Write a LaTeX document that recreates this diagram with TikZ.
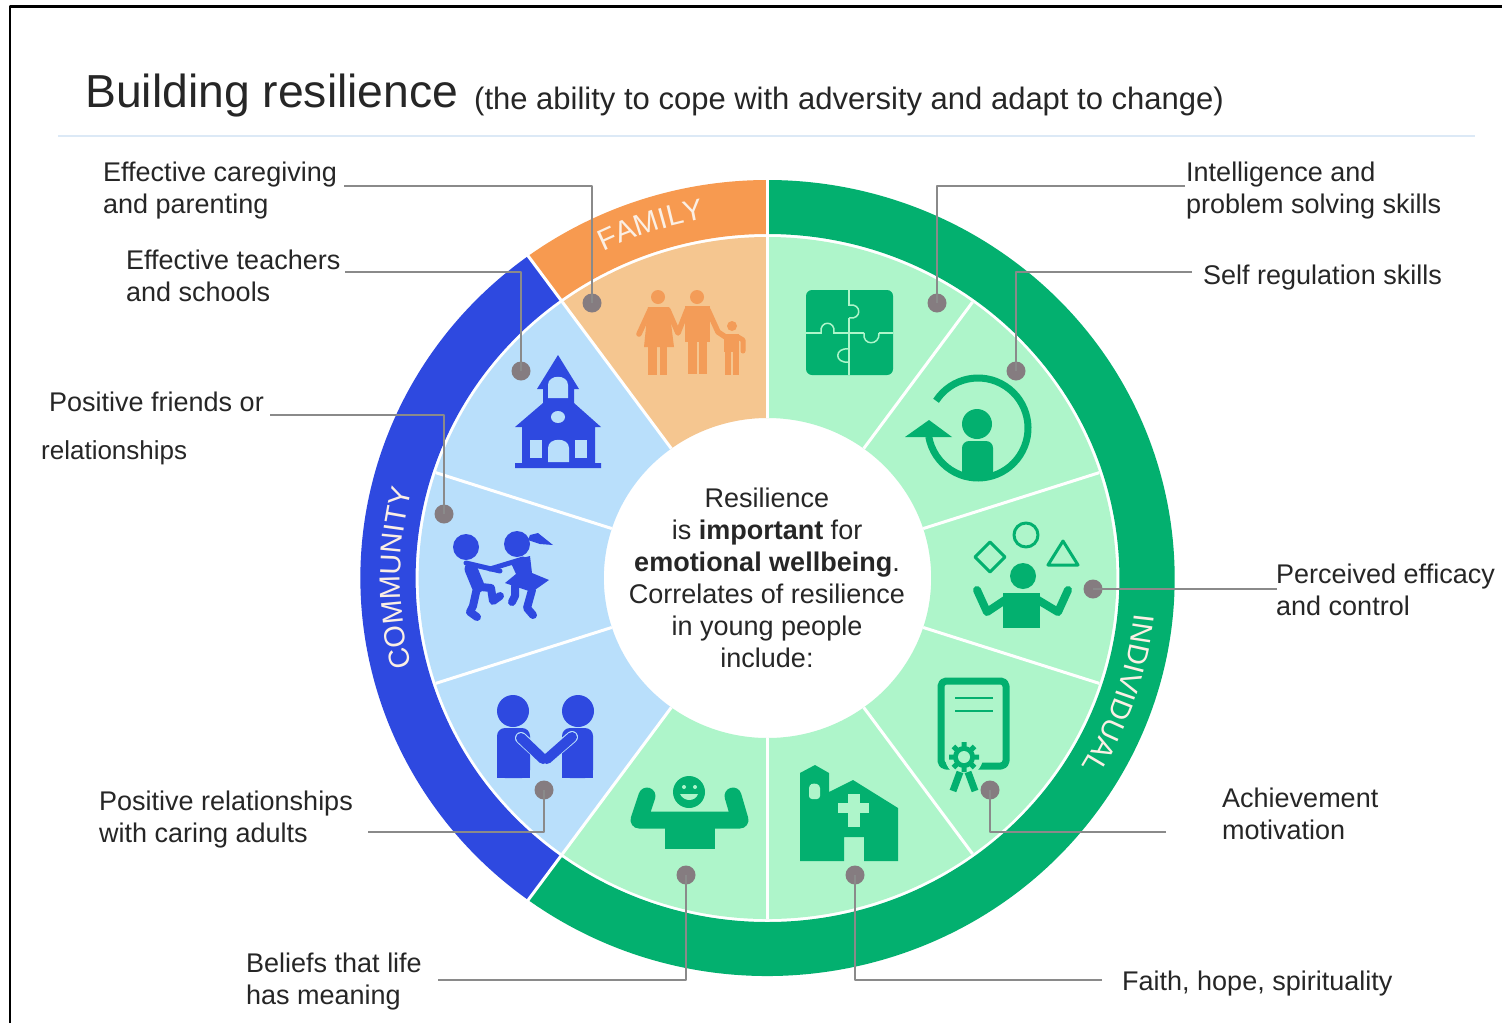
\documentclass[tikz,border=0pt]{standalone}
\usepackage{fontspec}
\setmainfont{Liberation Sans}
\usetikzlibrary{decorations.text}
\definecolor{ringO}{HTML}{F79A50}
\definecolor{ringB}{HTML}{2E49E0}
\definecolor{ringG}{HTML}{03B06F}
\definecolor{wedgeO}{HTML}{F5C690}
\definecolor{wedgeB}{HTML}{B9DFFB}
\definecolor{wedgeG}{HTML}{AEF5CA}
\definecolor{iconO}{HTML}{F39C58}
\definecolor{leadgray}{HTML}{8A8A8A}
\definecolor{dotgray}{HTML}{857C80}
\definecolor{txt}{HTML}{262626}
\definecolor{ringtxt}{HTML}{FBEFE4}
\definecolor{rulec}{HTML}{DCE9F6}
\newcommand{\fsz}[1]{\fontsize{#1pt}{32pt}\selectfont}
\newcommand{\wedgeseg}[3]{%
  \fill[#1] (#2:341) arc[start angle=#2,end angle=#3,radius=341] -- (#3:160) arc[start angle=#3,end angle=#2,radius=160] -- cycle;}
\newcommand{\spokeat}[1]{\draw[spokeline] (#1:160) -- (#1:341);}
\newcommand{\gapat}[1]{\draw[spokeline] (#1:341) -- (#1:400);}
\tikzset{
  lab/.style={anchor=west,align=left,inner sep=0pt,text=txt,font=\fsz{27}},
  leader/.style={draw=leadgray,line width=2.3pt},
  pin/.style={circle,fill=dotgray,minimum size=19pt,inner sep=0pt},
  spokeline/.style={draw=white,line width=3pt},
}
\begin{document}
\begin{tikzpicture}[x=1pt,y=-1pt,line join=round]
\useasboundingbox (0,0) rectangle (1502,1023);
\fill[white] (0,0) rectangle (1502,1023);
\draw[black,line width=2.5pt] (10,1023) -- (10,6.5) -- (1502,6.5);
\draw[rulec,line width=2pt] (58,135.5) -- (1475,135.5);

\node[anchor=west,inner sep=0pt,text=txt,font=\fsz{46.3}] (title) at (85,96) {Building resilience};
\node[anchor=west,inner sep=0pt,text=txt,font=\fsz{31}] (subtitle) at (474,101) {(the ability to cope with adversity and adapt to change)};

% wheel
\begin{scope}[shift={(767.5,578)},y=1pt,xscale=1.023]
  \fill[ringO] (90:398) arc[start angle=90,end angle=126,radius=398] -- (126:344) arc[start angle=126,end angle=90,radius=344] -- cycle;
  \fill[ringB] (126:398) arc[start angle=126,end angle=234,radius=398] -- (234:344) arc[start angle=234,end angle=126,radius=344] -- cycle;
  \fill[ringG] (234:398) arc[start angle=234,end angle=450,radius=398] -- (450:344) arc[start angle=450,end angle=234,radius=344] -- cycle;
  \wedgeseg{wedgeO}{90}{126}
  \wedgeseg{wedgeB}{126}{234}
  \wedgeseg{wedgeG}{234}{450}
  \spokeat{126}\spokeat{162}\spokeat{198}\spokeat{234}\spokeat{270}
  \spokeat{306}\spokeat{342}\spokeat{18}\spokeat{54}\spokeat{90}
  \gapat{90}\gapat{126}\gapat{234}
  \draw[white,line width=1.5pt] (0,0) circle[radius=342.5];
  \path[decorate,decoration={text along path,text align=center,
    text={|\fsz{29.5}\color{ringtxt}|FAMILY}}]
    (121.5:364) arc[start angle=121.5,end angle=94.5,radius=364];
  \path[decorate,decoration={text along path,text align=center,
    text={|\fsz{29}\color{ringtxt}|COMMUNITY}}]
    (208:359) arc[start angle=208,end angle=152,radius=359];
  \path[decorate,decoration={text along path,text align=center,
    text={|\fsz{29}\color{ringtxt}|INDIVIDUAL}}]
    (7:360) arc[start angle=7,end angle=-44,radius=360];
\end{scope}

% family icon
\begin{scope}[fill=iconO,draw=iconO]
  \fill (658,297) circle[radius=7];
  \fill (697,297) circle[radius=7];
  \fill (732,326) circle[radius=5];
  \fill (648,307) -- (669,307) -- (674,347) -- (644,347) -- cycle;
  \fill (648,345) rectangle (657,375);
  \fill (660,345) rectangle (667,375);
  \draw[line width=5.5pt,line cap=round] (650,310) -- (639,334);
  \draw[line width=5.5pt,line cap=round] (668,310) -- (678,333) -- (687,310);
  \fill (685,306) rectangle (710,342);
  \fill (688,340) rectangle (697,374);
  \fill (699,340) rectangle (707,374);
  \draw[line width=5.5pt,line cap=round] (708,310) -- (718,332) -- (727,338);
  \fill (724,334) rectangle (739,352);
  \fill (725,350) rectangle (731,375);
  \fill (733,350) rectangle (739,375);
  \draw[line width=5pt,line cap=round] (738,337) -- (743,340) -- (743,351);
\end{scope}

% school icon
\begin{scope}[fill=ringB]
  \fill (558,355) -- (579,389) -- (574,389) -- (574,403) -- (601,427) -- (595,427) -- (595,463) -- (601,463) -- (601,468) -- (515,468) -- (515,463) -- (522,463) -- (522,427) -- (515,427) -- (543,403) -- (543,389) -- (537,389) -- cycle;
  \fill[wedgeB] (548,398) -- (548,385) .. controls (548,374) and (568,374) .. (568,385) -- (568,398) -- cycle;
  \fill[wedgeB] (558,417) ellipse[x radius=7,y radius=6];
  \fill[wedgeB] (530,440) rectangle (542,458);
  \fill[wedgeB] (575,440) rectangle (587,458);
  \fill[wedgeB] (548,462) -- (548,448) .. controls (548,437) and (569,437) .. (569,448) -- (569,462) -- cycle;
\end{scope}

% kids icon
\begin{scope}[fill=ringB,draw=ringB,line cap=round]
  \fill (466,547) circle[radius=13];
  \fill (517,544) circle[radius=13];
  \fill (528,540) -- (530,535) -- (538,533) -- (553,545) -- (540,544) -- cycle;
  \draw[line width=13pt] (471,569) -- (478,586);
  \draw[line width=5pt] (466,563) -- (500,571);
  \draw[line width=5pt] (523,559) -- (490,569);
  \draw[line width=8pt] (477,588) -- (473,606) -- (470,612) -- (477,617);
  \draw[line width=8pt] (481,587) -- (491,588) -- (493,601) -- (500,596);
  \fill (510,561) -- (530,556) -- (532,573) -- (549,580) -- (532,592) -- (505,583) -- (516,574) -- cycle;
  \draw[line width=8pt] (515,586) -- (515,596) -- (512,602);
  \draw[line width=8pt] (532,590) -- (527,608) -- (533,615);
\end{scope}

% handshake icon
\begin{scope}[fill=ringB]
  \fill (513,711) circle[radius=16];
  \fill (578,711) circle[radius=16];
  \fill[rounded corners=8pt] (497,778) -- (497,728) -- (530,728) -- (530,778) -- cycle;
  \fill (497,778) rectangle (530,760);
  \fill[rounded corners=8pt] (562,778) -- (562,728) -- (593,728) -- (593,778) -- cycle;
  \fill (562,778) rectangle (593,760);
  \draw[wedgeB,line width=12pt,line cap=round] (521,738) -- (545,760) -- (572,737);
  \draw[ringB,line width=10pt,line cap=round] (521,738) -- (543,759);
  \draw[ringB,line width=10pt,line cap=round] (547,759) -- (572,737);
\end{scope}

% cheering icon
\begin{scope}
  \draw[ringG,line width=17pt,line cap=round] (647,796) -- (639,820) -- (740,820) -- (733,796);
  \fill[ringG] (665,822) rectangle (715,849);
  \fill[ringG] (689,792) circle[radius=16];
  \fill[wedgeG] (684,787) circle[radius=2];
  \fill[wedgeG] (695,787) circle[radius=2];
  \fill[wedgeG] (680,794) .. controls (684,802) and (695,802) .. (698,794) -- cycle;
\end{scope}

% church icon
\begin{scope}
  \fill[ringG] (800,773) -- (815,765) -- (829,773) -- (829,792) -- (853,780) -- (898,808) -- (898,861) -- (864,861) -- (864,837) -- (844,837) -- (844,861) -- (800,861) -- cycle;
  \fill[wedgeG,rounded corners=3pt] (809,799) -- (809,785) -- (814,783) -- (820,785) -- (820,799) -- cycle;
  \fill[wedgeG] (838,803) rectangle (869,813);
  \fill[wedgeG] (848,794) rectangle (860,827);
\end{scope}

% certificate icon
\begin{scope}
  \draw[ringG,line width=7pt,rounded corners=5pt] (941,681) rectangle (1006,766);
  \draw[ringG,line width=1.5pt] (955,698) -- (993,698);
  \draw[ringG,line width=1.5pt] (955,711) -- (993,711);
  \fill[wedgeG] (964,757) circle[radius=19];
  \draw[ringG,line width=7pt] (960,772) -- (953,791);
  \draw[ringG,line width=7pt] (968,772) -- (975,791);
  \draw[ringG,line width=5pt] (949,757) -- (979,757) (964,742) -- (964,772) (953.4,746.4) -- (974.6,767.6) (953.4,767.6) -- (974.6,746.4);
  \fill[ringG] (964,757) circle[radius=11];
  \fill[wedgeG] (964,757) circle[radius=6];
\end{scope}

% puzzle icon
\begin{scope}
  \fill[ringG,rounded corners=6pt] (806,290) rectangle (893,375);
  \draw[wedgeG,line width=1.5pt] (849,290) -- (849,306) (849,318) -- (849,375);
  \draw[wedgeG,line width=1.5pt] (806,333) -- (822,333) (833,333) -- (864,333) (879,333) -- (893,333);
  \draw[wedgeG,line width=1.5pt] (849,305) .. controls (862,303) and (862,320) .. (849,318);
  \draw[wedgeG,line width=1.5pt] (821,333) .. controls (819,320) and (836,320) .. (834,333);
  \draw[wedgeG,line width=1.5pt] (864,333) .. controls (862,346) and (880,346) .. (879,333);
  \draw[wedgeG,line width=1.5pt] (849,349) .. controls (834,347) and (834,364) .. (849,362);
\end{scope}

% self-regulation icon
\begin{scope}[shift={(978,428)},y=1pt]
  \draw[ringG,line width=7pt] (147:50) arc[start angle=147,end angle=-170,radius=50];
  \fill[ringG] (-73,-9) -- (-26,-9) -- (-49,8) -- cycle;
  \fill[ringG] (-1,4) circle[radius=15];
  \fill[ringG,rounded corners=7pt] (-16,-50) -- (-16,-13) -- (15,-13) -- (15,-50) -- cycle;
  \fill[ringG] (-16,-40) rectangle (15,-50);
\end{scope}

% juggler icon
\begin{scope}
  \draw[ringG,line width=3pt] (1026,535) circle[radius=12];
  \draw[ringG,line width=3pt] (1063,541) -- (1078,565) -- (1048,565) -- cycle;
  \draw[ringG,line width=3pt] (990,542) -- (1005,557) -- (990,572) -- (975,557) -- cycle;
  \fill[ringG] (1023,576) circle[radius=13];
  \fill[ringG] (1003,593) rectangle (1040,628);
  \draw[ringG,line width=8pt,line cap=round] (977,590) -- (987,612) -- (1005,600);
  \draw[ringG,line width=8pt,line cap=round] (1068,590) -- (1058,612) -- (1038,600);
\end{scope}

% centre text
\node[align=center,inner sep=0pt,text=txt,font=\fsz{27}] (centre) at (767,578) {Resilience\\is \textbf{important} for\\\textbf{emotional wellbeing}.\\Correlates of resilience\\in young people\\include:};

% labels
\node[lab] (l1) at (103,191) {Effective caregiving\\and parenting};
\node[lab] (l2) at (126,276) {Effective teachers\\and schools};
\node[lab] (l3) at (49,402) {Positive friends or};
\node[lab,font=\fsz{26}] (l3b) at (41,453) {relationships};
\node[lab] (l4) at (99,820) {Positive relationships\\with caring adults};
\node[lab] (l5) at (246,982) {Beliefs that life\\has meaning};
\node[lab] (l6) at (1122,984) {Faith, hope, spirituality};
\node[lab] (l7) at (1222,814) {Achievement\\motivation};
\node[lab] (l8) at (1276,590) {Perceived efficacy\\and control};
\node[lab] (l9) at (1203,278) {Self regulation skills};
\node[lab] (l10) at (1186,191) {Intelligence and\\problem solving skills};

% pins
\node[pin] (p1) at (592,303) {};
\node[pin] (p2) at (521,371) {};
\node[pin] (p3) at (444,514) {};
\node[pin] (p4) at (544,790) {};
\node[pin] (p5) at (686,875) {};
\node[pin] (p6) at (855,875) {};
\node[pin] (p7) at (990,790) {};
\node[pin] (p8) at (1093,589) {};
\node[pin] (p9) at (1016,371) {};
\node[pin] (p10) at (937,303) {};

% leader ends
\coordinate (e1) at (344,186);
\coordinate (e2) at (345,272);
\coordinate (e3) at (270,415);
\coordinate (e4) at (368,832);
\coordinate (e5) at (438,980);
\coordinate (e6) at (1102,980);
\coordinate (e7) at (1166,832);
\coordinate (e8) at (1277,589);
\coordinate (e9) at (1192,272);
\coordinate (e10) at (1185,186);

\draw[leader] (e1) -| (p1.center);
\draw[leader] (e2) -| (p2.center);
\draw[leader] (e3) -| (p3.center);
\draw[leader] (e4) -| (p4.center);
\draw[leader] (e5) -| (p5.center);
\draw[leader] (e6) -| (p6.center);
\draw[leader] (e7) -| (p7.center);
\draw[leader] (e8) -- (p8.center);
\draw[leader] (e9) -| (p9.center);
\draw[leader] (e10) -| (p10.center);
\end{tikzpicture}
\end{document}
